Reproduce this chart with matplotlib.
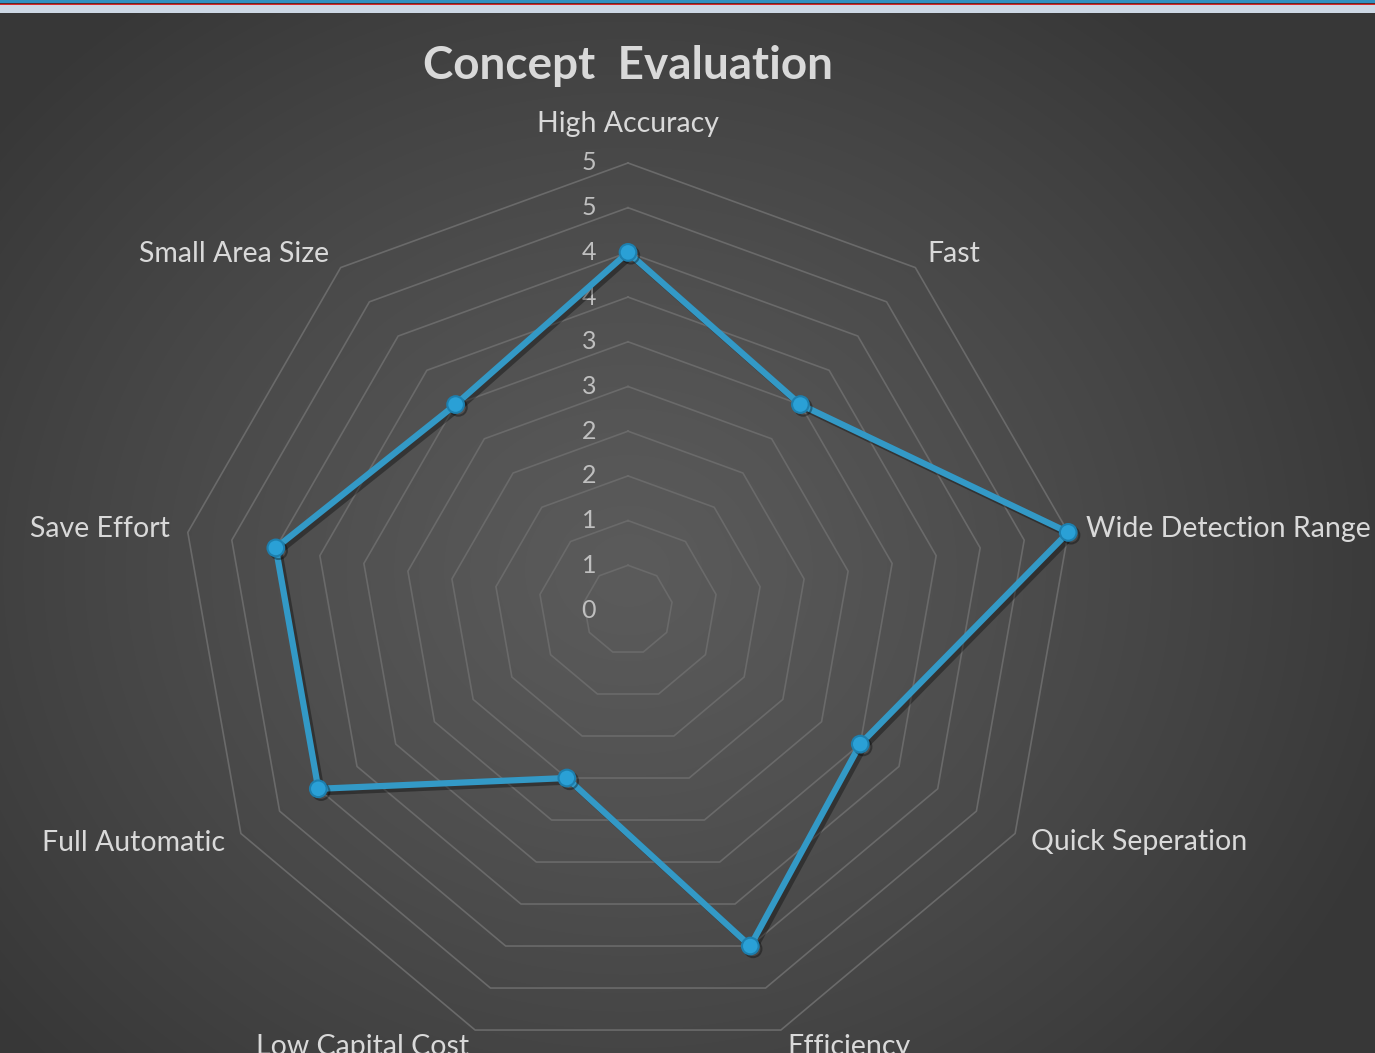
import numpy as np
import matplotlib
matplotlib.use("Agg")
import matplotlib.pyplot as plt
import matplotlib.patheffects as pe
from matplotlib.patches import Rectangle

# ---------------------------------------------------------------------------
# Data
# ---------------------------------------------------------------------------
categories = ["High Accuracy", "Fast", "Wide Detection Range",
              "Quick Seperation", "Efficiency", "Low Capital Cost",
              "Full Automatic", "Save Effort", "Small Area Size"]
scores = [4, 3, 5, 3, 4, 2, 4, 4, 3]

ring_values = [0.5, 1.0, 1.5, 2.0, 2.5, 3.0, 3.5, 4.0, 4.5, 5.0]
tick_values = [0, 0.5, 1.0, 1.5, 2.0, 2.5, 3.0, 3.5, 4.0, 4.5, 5.0]
tick_labels = ["0", "1", "1", "2", "2", "3", "3", "4", "4", "5", "5"]

TITLE = "Concept  Evaluation"

W, H = 1375, 1053
CX, CY, RPX = 628, 610, 447     # chart centre / radius in pixels

LINE_COL  = "#3399c6"
GRID_COL  = "#6a6a6a"
LABEL_COL = "#d9d9d9"
TICK_COL  = "#bfbfbf"

plt.rcParams["font.family"] = ["Lato", "DejaVu Sans"]

fig = plt.figure(figsize=(W / 100, H / 100), dpi=100)

# background: soft radial gradient like the Excel dark theme
bg = fig.add_axes([0, 0, 1, 1])
yy, xx = np.mgrid[0:H, 0:W]
d = np.sqrt(((xx - CX) / 820.0) ** 2 + ((yy - 570) / 720.0) ** 2)
d = np.clip(d, 0, 1)
shade = (0x5b - (0x5b - 0x37) * d ** 1.2) / 255.0
bg.imshow(np.dstack([shade, shade, shade]), extent=[0, W, H, 0], aspect="auto")
bg.set_xlim(0, W)
bg.set_ylim(H, 0)
bg.axis("off")

# top banner strip
strips = [(0, 3, "#3090c0"), (3, 4, "#5a2a2a"), (4, 5.5, "#d82828"),
          (5.5, 13, "#cdd8e5")]
for y0, y1, col in strips:
    fig.add_artist(Rectangle((0, 1 - y1 / H), 1, (y1 - y0) / H,
                             transform=fig.transFigure, color=col, lw=0,
                             zorder=5))

# polar axes
ax = fig.add_axes([(CX - RPX) / W, (H - CY - RPX) / H, 2 * RPX / W, 2 * RPX / H],
                  projection="polar")
ax.patch.set_alpha(0)
ax.set_theta_offset(np.pi / 2)
ax.set_theta_direction(-1)
ax.set_ylim(0, 5)
ax.grid(False)
ax.set_xticks([])
ax.set_yticks([])
ax.spines["polar"].set_visible(False)

n = len(categories)
angles = np.linspace(0, 2 * np.pi, n, endpoint=False)
closed = np.append(angles, angles[0])

for v in ring_values:
    ax.plot(closed, [v] * (n + 1), color=GRID_COL, lw=1.2, zorder=1,
            clip_on=False)

for v, lbl in zip(tick_values, tick_labels):
    ax.annotate(lbl, xy=(0, v), xytext=(-32, 0), textcoords="offset pixels",
                ha="right", va="center", fontsize=18, color=TICK_COL,
                annotation_clip=False)

for a, name in zip(angles, categories):
    s, c = np.sin(a), np.cos(a)
    if c > 0.95:
        off, ha, va = (0, 26), "center", "bottom"
    else:
        off = (18 * s, 18 * c)
        ha = "left" if s > 0 else "right"
        va = "center"
    ax.annotate(name, xy=(a, 5), xytext=off, textcoords="offset pixels",
                ha=ha, va=va, fontsize=20.5, color=LABEL_COL,
                annotation_clip=False)

vals = np.append(scores, scores[0])
ax.plot(closed, vals, color=LINE_COL, lw=4.5, zorder=3, clip_on=False,
        solid_joinstyle="round",
        path_effects=[pe.SimpleLineShadow(offset=(2.5, -2.5),
                                          shadow_color="black", alpha=0.35),
                      pe.Normal()])
ax.plot(angles, scores, ls="none", marker="o", ms=12, mfc="#2aa0d6",
        mec="#1d7fae", mew=1.5, zorder=4, clip_on=False,
        path_effects=[pe.SimpleLineShadow(offset=(2, -2), shadow_color="black",
                                          alpha=0.35),
                      pe.Normal()])

fig.text(CX / W, 1 - 66 / H, TITLE, ha="center", va="center",
         fontsize=33, fontweight="bold", color=LABEL_COL)

fig.savefig("out.png", dpi=100)
